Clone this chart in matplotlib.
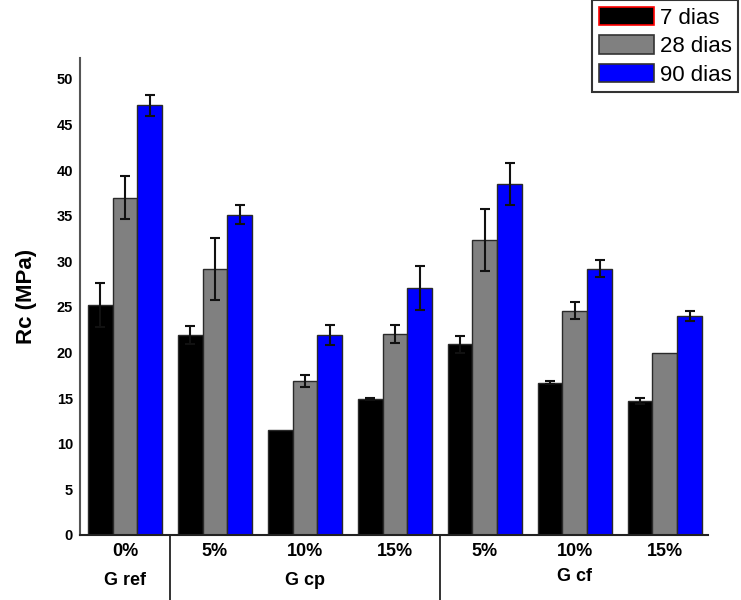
import numpy as np
import matplotlib
matplotlib.use('Agg')
import matplotlib.pyplot as plt
from matplotlib.patches import Patch

plt.rcParams['font.family'] = ['Liberation Sans', 'DejaVu Sans']

# Resistência à compressão por teor de substituição
teores = ['0%', '5%', '10%', '15%', '5%', '10%', '15%']
grupos = ['G ref', 'G cp', 'G cf']
idades = ['7 dias', '28 dias', '90 dias']

rc_7 = [25.2, 21.9, 11.5, 14.9, 20.9, 16.7, 14.7]
rc_28 = [37.0, 29.2, 16.9, 22.0, 32.3, 24.6, 20.0]
rc_90 = [47.1, 35.1, 21.9, 27.1, 38.5, 29.2, 24.0]

# desvio padrão (nan = sem barra de erro)
dp_7 = [2.4, 1.0, np.nan, 0.1, 0.9, 0.15, 0.35]
dp_28 = [2.4, 3.4, 0.65, 1.0, 3.4, 0.9, np.nan]
dp_90 = [1.15, 1.05, 1.1, 2.4, 2.3, 0.9, 0.55]

cores = ['#000000', '#808080', '#0000ff']

fig = plt.figure(figsize=(7.41, 6.0), dpi=100)
ax = fig.add_axes([80 / 741, 65 / 600, 628 / 741, 477 / 600])

x = np.arange(len(teores))
w = 0.275
for k, (vals, err) in enumerate(zip([rc_7, rc_28, rc_90], [dp_7, dp_28, dp_90])):
    ax.bar(x + (k - 1) * w, vals, w, color=cores[k], edgecolor='#2a2a2a',
           linewidth=1.0, yerr=err, capsize=3.5,
           error_kw=dict(ecolor='#111111', elinewidth=1.5, capthick=1.5))

ax.set_xlim(-0.5, 6.48)
ax.set_ylim(0, 52.3)
ax.set_yticks(np.arange(0, 51, 5))
ax.tick_params(axis='y', length=0, pad=5, labelsize=10.5)
for t in ax.get_yticklabels():
    t.set_fontweight('bold')

ax.set_xticks(x)
ax.set_xticklabels(teores, fontsize=13, fontweight='bold')
ax.tick_params(axis='x', length=0, pad=6)

ax.spines['top'].set_visible(False)
ax.spines['right'].set_visible(False)
ax.spines['left'].set_color('#555555')
ax.spines['left'].set_linewidth(1.5)
ax.spines['bottom'].set_color('#222222')
ax.spines['bottom'].set_linewidth(1.5)

ax.set_ylabel('Rc (MPa)', fontsize=16, fontweight='bold', labelpad=14)

# separadores entre grupos
trans = ax.get_xaxis_transform()
for xs in [0.5, 3.5]:
    ax.plot([xs, xs], [0, -0.14], color='#222222', lw=1.3,
            transform=trans, clip_on=False)

ax.text(0, -0.095, grupos[0], transform=trans, ha='center', va='center',
        fontsize=13, fontweight='bold')
ax.text(2, -0.095, grupos[1], transform=trans, ha='center', va='center',
        fontsize=13, fontweight='bold')
ax.text(5, -0.088, grupos[2], transform=trans, ha='center', va='center',
        fontsize=13, fontweight='bold')

handles = [Patch(facecolor=cores[0], edgecolor='red', linewidth=1.2),
           Patch(facecolor=cores[1], edgecolor='#333333', linewidth=1.2),
           Patch(facecolor=cores[2], edgecolor='#333333', linewidth=1.2)]
leg = fig.legend(handles, idades, loc='upper left',
                 bbox_to_anchor=(592 / 741, 1.0), fontsize=16,
                 frameon=True, fancybox=False, framealpha=1,
                 handlelength=2.5, handleheight=0.9, handletextpad=0.25,
                 labelspacing=0.3, borderpad=0.3, borderaxespad=0)
leg.get_frame().set_edgecolor('#333333')
leg.get_frame().set_linewidth(1.5)

fig.savefig('out.png', dpi=100)
